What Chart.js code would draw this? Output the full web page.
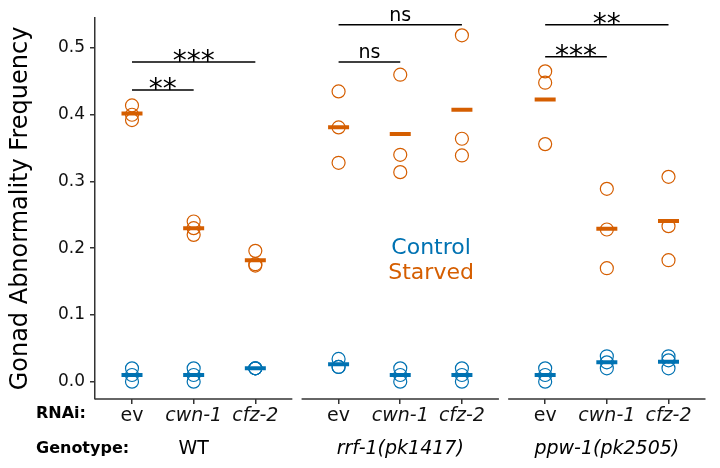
<!DOCTYPE html>
<html>
<head>
<meta charset="utf-8">
<script src="https://cdn.jsdelivr.net/npm/chart.js@4"></script>
<style>
  body { margin: 0; background: #fff; }
  #wrap { position: relative; width: 720px; height: 468px; }
</style>
</head>
<body>
<div id="wrap"><canvas id="chart"></canvas></div>
<script>
// categories
const rnai = ["ev", "cwn-1", "cfz-2"];
const genotypes = ["WT", "rrf-1(pk1417)", "ppw-1(pk2505)"];
const yTicks = [0, 0.1, 0.2, 0.3, 0.4, 0.5];

// replicate frequencies, one inner array per RNAi (ev, cwn-1, cfz-2)
const controlWT = [[0.02, 0.01, 0.0], [0.02, 0.01, 0.0], [0.02, 0.02, 0.02]];
const controlRrf1 = [[0.034, 0.022, 0.022], [0.02, 0.01, 0.0], [0.02, 0.01, 0.0]];
const controlPpw1 = [[0.02, 0.01, 0.0], [0.038, 0.029, 0.02], [0.038, 0.032, 0.02]];
const starvedWT = [[0.414, 0.4, 0.392], [0.24, 0.23, 0.22], [0.196, 0.176, 0.174]];
const starvedRrf1 = [[0.435, 0.381, 0.328], [0.46, 0.34, 0.314], [0.519, 0.364, 0.339]];
const starvedPpw1 = [[0.465, 0.448, 0.356], [0.289, 0.228, 0.17], [0.307, 0.233, 0.182]];

// significance brackets (always from ev)
const sigPanel = [0, 0, 1, 1, 2, 2];
const sigTo = [1, 2, 1, 2, 1, 2];
const sigY = [0.437, 0.479, 0.479, 0.535, 0.487, 0.535];
const sigText = ["**", "***", "ns", "ns", "***", "**"];

const BLUE = "#0072B2";
const ORANGE = "#D55E00";
const FONT = "'DejaVu Sans', Verdana, sans-serif";
const PANEL_STEP = 3.35; // x offset between genotype panels

const xPos = (panel, i) => panel * PANEL_STEP + 1 + i;
const mean = a => a.reduce((s, v) => s + v, 0) / a.length;

function pointsOf(groups) {
  const out = [];
  groups.forEach((g, panel) => g.forEach((reps, i) => reps.forEach(v => out.push({ x: xPos(panel, i), y: v }))));
  return out;
}
function meansOf(groups) {
  const out = [];
  groups.forEach((g, panel) => g.forEach((reps, i) => out.push({ x: xPos(panel, i), y: mean(reps) })));
  return out;
}

const control = [controlWT, controlRrf1, controlPpw1];
const starved = [starvedWT, starvedRrf1, starvedPpw1];

const tickValues = [];
genotypes.forEach((g, p) => rnai.forEach((r, i) => tickValues.push(xPos(p, i))));

const extras = {
  id: "extras",
  afterDatasetsDraw(chart) {
    const { ctx, chartArea } = chart;
    const xs = chart.scales.x, ys = chart.scales.y;
    ctx.save();

    // broken bottom axis, one segment per panel
    ctx.strokeStyle = "#333";
    ctx.lineWidth = 1.5;
    genotypes.forEach((g, p) => {
      ctx.beginPath();
      ctx.moveTo(xs.getPixelForValue(p * PANEL_STEP + 0.4), chartArea.bottom);
      ctx.lineTo(xs.getPixelForValue(p * PANEL_STEP + 3.6), chartArea.bottom);
      ctx.stroke();
    });

    // significance brackets
    ctx.strokeStyle = "#000";
    ctx.fillStyle = "#000";
    ctx.textAlign = "center";
    sigText.forEach((t, k) => {
      const x1 = xs.getPixelForValue(xPos(sigPanel[k], 0));
      const x2 = xs.getPixelForValue(xPos(sigPanel[k], sigTo[k]));
      const y = ys.getPixelForValue(sigY[k]);
      ctx.beginPath();
      ctx.moveTo(x1, y);
      ctx.lineTo(x2, y);
      ctx.stroke();
      ctx.textBaseline = "alphabetic";
      if (t === "ns") {
        ctx.font = "19px " + FONT;
        ctx.fillText(t, (x1 + x2) / 2, y - 4);
      } else {
        ctx.font = "28px " + FONT;
        ctx.fillText(t, (x1 + x2) / 2, y + 8);
      }
    });

    // in-plot legend
    ctx.font = "22px " + FONT;
    ctx.textBaseline = "middle";
    const lx = xs.getPixelForValue(5.85);
    ctx.fillStyle = BLUE;
    ctx.fillText("Control", lx, ys.getPixelForValue(0.2));
    ctx.fillStyle = ORANGE;
    ctx.fillText("Starved", lx, ys.getPixelForValue(0.162));

    // row labels and genotype names
    ctx.fillStyle = "#000";
    ctx.textAlign = "left";
    ctx.font = "bold 16px " + FONT;
    ctx.fillText("RNAi:", 36, 414);
    ctx.fillText("Genotype:", 36, 449);
    ctx.textAlign = "center";
    genotypes.forEach((g, p) => {
      ctx.font = (p === 0 ? "" : "italic ") + "19px " + FONT;
      ctx.fillText(g, xs.getPixelForValue(xPos(p, 1)), 449);
    });
    ctx.restore();
  }
};

new Chart(document.getElementById("chart"), {
  type: "scatter",
  data: {
    datasets: [
      { data: meansOf(control), pointStyle: "line", radius: 10.5, borderWidth: 4, borderColor: BLUE, order: 0 },
      { data: meansOf(starved), pointStyle: "line", radius: 10.5, borderWidth: 4, borderColor: ORANGE, order: 0 },
      { data: pointsOf(control), pointStyle: "circle", radius: 6.5, borderWidth: 1.2, borderColor: BLUE, backgroundColor: "rgba(0,0,0,0)", order: 1 },
      { data: pointsOf(starved), pointStyle: "circle", radius: 6.5, borderWidth: 1.2, borderColor: ORANGE, backgroundColor: "rgba(0,0,0,0)", order: 1 }
    ]
  },
  options: {
    responsive: true,
    maintainAspectRatio: false,
    animation: false,
    layout: { padding: { top: 18, right: 11, left: 0, bottom: 0 } },
    plugins: { legend: { display: false }, tooltip: { enabled: false } },
    scales: {
      x: {
        type: "linear",
        min: 0.4,
        max: 2 * PANEL_STEP + 3.6,
        afterBuildTicks: s => { s.ticks = tickValues.map(v => ({ value: v })); },
        afterFit: s => { s.height = 69; },
        border: { display: false },
        grid: { drawOnChartArea: false, drawTicks: true, tickLength: 5, color: "#333", lineWidth: 1.5 },
        ticks: {
          autoSkip: false,
          maxRotation: 0,
          padding: 1,
          color: "#111",
          font: ctx => ({ family: FONT, size: 19, style: ctx.index % 3 === 0 ? "normal" : "italic" }),
          callback: (v, i) => rnai[i % 3]
        }
      },
      y: {
        min: -0.026,
        max: 0.545,
        afterBuildTicks: s => { s.ticks = yTicks.map(v => ({ value: v })); },
        afterFit: s => { s.width = 95; },
        border: { display: true, color: "#333", width: 1.5 },
        grid: { drawOnChartArea: false, drawTicks: true, tickLength: 5, color: "#333", lineWidth: 1.5 },
        ticks: {
          padding: 5,
          color: "#111",
          font: { family: FONT, size: 17 },
          callback: v => v.toFixed(1)
        },
        title: {
          display: true,
          text: "Gonad Abnormality Frequency",
          color: "#000",
          font: { family: FONT, size: 24 },
          padding: { top: 6, bottom: 0 }
        }
      }
    }
  },
  plugins: [extras]
});
</script>
</body>
</html>
